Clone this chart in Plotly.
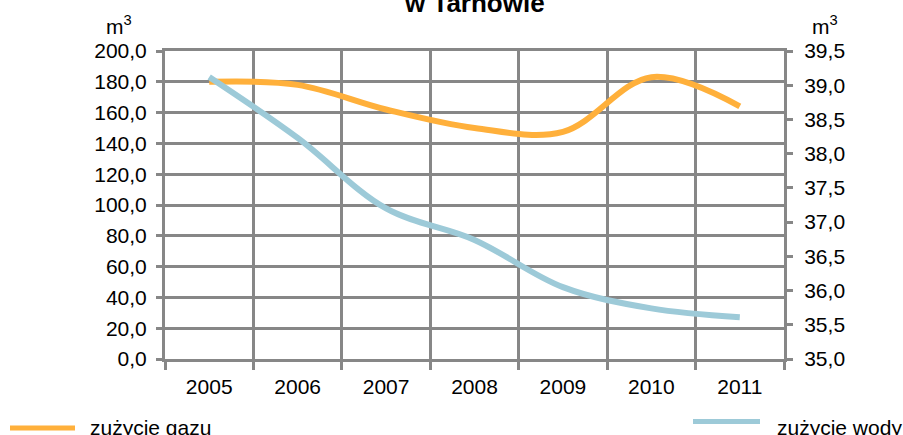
import plotly.graph_objects as go

years = ["2005", "2006", "2007", "2008", "2009", "2010", "2011"]
gas = [180.0, 178.0, 162.0, 150.0, 147.5, 183.0, 164.0]
water = [39.12, 38.23, 37.20, 36.74, 36.05, 35.74, 35.61]
left_ticks = [0, 20, 40, 60, 80, 100, 120, 140, 160, 180, 200]
right_ticks = [35.0, 35.5, 36.0, 36.5, 37.0, 37.5, 38.0, 38.5, 39.0, 39.5]
gas_name = "zużycie gazu"
water_name = "zużycie wody"
title_text = "w Tarnowie"
unit = "m<sup>3</sup>"

ORANGE = "#FFB03B"
BLUE = "#9DCAD8"
GRID = "#878787"
FONT = "Liberation Sans, Arial, sans-serif"
FS = 21

W, H = 903, 435
L, R, T, B = 165, 119, 51, 76
PW, PH = W - L - R, H - T - B


def px(x):
    return (x - L) / PW


def py(y):
    return (H - B - y) / PH


fig = go.Figure()
fig.add_trace(go.Scatter(x=years, y=gas, mode="lines", name=gas_name,
                         line=dict(color=ORANGE, width=6, shape="spline", smoothing=1.0),
                         showlegend=False, yaxis="y"))
fig.add_trace(go.Scatter(x=years, y=water, mode="lines", name=water_name,
                         line=dict(color=BLUE, width=6, shape="spline", smoothing=1.0),
                         showlegend=False, yaxis="y2"))

fig.update_layout(
    width=W, height=H, autosize=False,
    margin=dict(l=L, r=R, t=T, b=B, pad=0),
    paper_bgcolor="white", plot_bgcolor="white",
    separators=", ",
    font=dict(family=FONT, size=FS, color="black"),
    xaxis=dict(type="category", range=[-0.5, 6.5], tickson="boundaries",
               showgrid=True, gridcolor=GRID, gridwidth=3,
               showline=True, linecolor=GRID, linewidth=3, mirror=True,
               ticks="outside", ticklen=8, tickwidth=3, tickcolor=GRID,
               ticklabelstandoff=7,
               tickfont=dict(size=FS), zeroline=False),
    yaxis=dict(range=[0, 200], tickvals=left_ticks, tickformat=".1f",
               showgrid=True, gridcolor=GRID, gridwidth=3,
               showline=True, linecolor=GRID, linewidth=3, mirror=True,
               ticks="outside", ticklen=6, tickwidth=3, tickcolor=GRID,
               ticklabelstandoff=5,
               tickfont=dict(size=FS), zeroline=False),
    yaxis2=dict(range=[35, 39.5], tickvals=right_ticks, tickformat=".1f",
                overlaying="y", side="right", showgrid=False,
                showline=True, linecolor=GRID, linewidth=3,
                ticks="outside", ticklen=6, tickwidth=3, tickcolor=GRID,
                ticklabelstandoff=7,
                tickfont=dict(size=FS), zeroline=False),
)

annotations = [
    dict(text="<b>" + title_text + "</b>", x=0.5, xref="paper", y=1, yref="paper",
         xanchor="center", yanchor="bottom", yshift=31, showarrow=False,
         font=dict(size=26, family=FONT, color="black")),
    dict(text=unit, x=px(119), xref="paper", y=py(25), yref="paper",
         xanchor="center", yanchor="middle", showarrow=False, font=dict(size=FS)),
    dict(text=unit, x=px(825), xref="paper", y=py(25), yref="paper",
         xanchor="center", yanchor="middle", showarrow=False, font=dict(size=FS)),
    dict(text=gas_name, x=px(88), xref="paper", y=py(427), yref="paper",
         xanchor="left", yanchor="middle", showarrow=False, font=dict(size=FS)),
    dict(text=water_name, x=px(775), xref="paper", y=py(427), yref="paper",
         xanchor="left", yanchor="middle", showarrow=False, font=dict(size=FS)),
]
fig.update_layout(annotations=annotations)

shapes = [
    dict(type="line", xref="paper", yref="paper", x0=px(10), x1=px(75), y0=py(428), y1=py(428),
         line=dict(color=ORANGE, width=5)),
    dict(type="line", xref="paper", yref="paper", x0=px(693), x1=px(760), y0=py(421.5), y1=py(421.5),
         line=dict(color=BLUE, width=5)),
]
fig.update_layout(shapes=shapes)

fig.write_html("out.html", config={"displayModeBar": False},
               post_script="document.body.style.margin='0';document.body.style.overflow='hidden';")
